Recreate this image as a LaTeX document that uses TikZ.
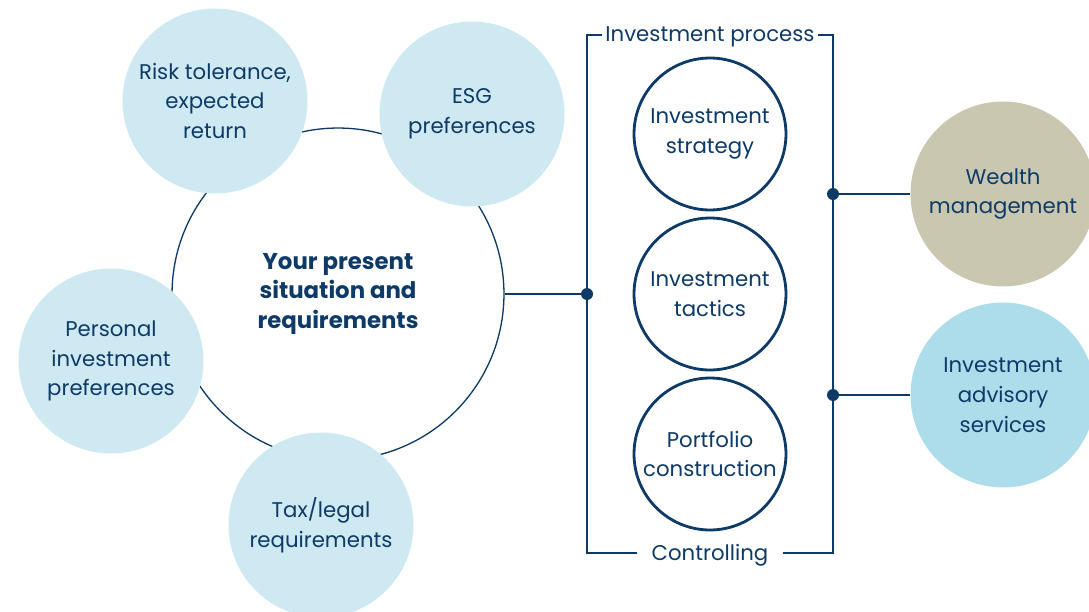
\documentclass[tikz,border=0pt]{standalone}
\usepackage{fontspec}
\setmainfont{Poppins}
\usetikzlibrary{positioning}

\definecolor{navy}{HTML}{0E3A68}
\definecolor{bubblefill}{HTML}{CFE9F2}
\definecolor{khaki}{HTML}{C9C7AF}
\definecolor{sky}{HTML}{ADDDEB}

\begin{document}
\begin{tikzpicture}[
    x=0.02cm, y=-0.02cm,
    every node/.style={text=navy, font=\fontsize{12.1}{17}\selectfont},
    core/.style={circle, draw=navy, line width=0.75pt, minimum size=6.64cm, align=center, font=\fontsize{13}{17}\selectfont\bfseries},
    bubble/.style={circle, fill=bubblefill, minimum size=3.7cm, inner sep=0pt, align=center},
    stage/.style={circle, draw=navy, line width=1.6pt, fill=white, minimum size=3.04cm, inner sep=0pt, align=center},
    service/.style={circle, minimum size=3.7cm, inner sep=0pt, align=center},
    link/.style={draw=navy, line width=0.75pt},
    dot/.style={circle, fill=navy, inner sep=0pt, minimum size=0.24cm}
]
\useasboundingbox (0,0) rectangle (1089,612);
\clip (0,0) rectangle (1089,612);

% Present situation (Left Side)
\node[core] (present) at (338,294) {Your present\\situation and\\requirements};

\node[bubble] (risk) at (215,101) {Risk tolerance,\\expected\\return};
\node[bubble] (esg) at (472,114) {ESG\\preferences};
\node[bubble] (personal) at (111,361) {Personal\\investment\\preferences};
\node[bubble] (tax) at (321,525) {Tax/legal\\requirements};

% Investment process bracket
\node[inner sep=2pt] (process) at (710,37) {Investment process};
\node[inner xsep=8pt] (controlling) at (710,555) {Controlling};
\coordinate (tl) at (587,35);
\coordinate (tr) at (833,35);
\coordinate (bl) at (587,553);
\coordinate (br) at (833,553);
\draw[link] (process.west |- tl) -- (tl) -- (bl) -- (controlling.west |- bl);
\draw[link] (process.east |- tr) -- (tr) -- (br) -- (controlling.east |- br);

% Stages
\node[stage] (strategy) at (710,134) {Investment\\strategy};
\node[stage] (tactics) at (710,294) {Investment\\tactics};
\node[stage] (portfolio) at (710,454) {Portfolio\\construction};

% Services (Right Side)
\node[service, fill=khaki] (wealth) at (1003,194) {Wealth\\management};
\node[service, fill=sky] (advisory) at (1003,395) {Investment\\advisory\\services};

% Connections
\node[dot] (hub) at (587,294) {};
\node[dot] (wealth-dot) at (833,194) {};
\node[dot] (advisory-dot) at (833,395) {};
\draw[link] (present.east) -- (hub);
\draw[link] (wealth-dot) -- (wealth.west);
\draw[link] (advisory-dot) -- (advisory.west);

\end{tikzpicture}
\end{document}
